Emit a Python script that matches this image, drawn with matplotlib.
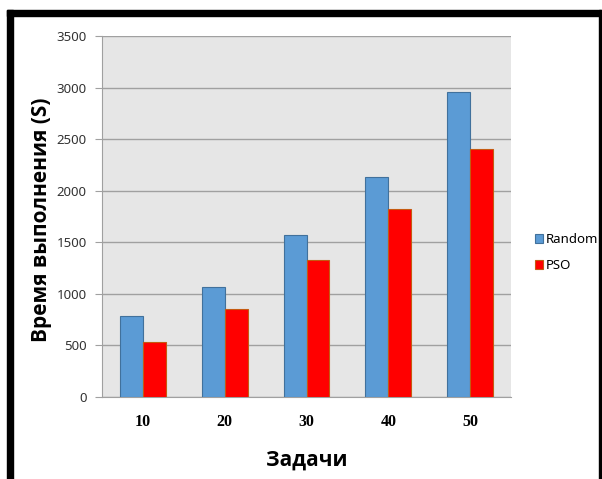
import numpy as np
import matplotlib.pyplot as plt
from matplotlib.patches import Rectangle

# данные: время выполнения для разного числа задач
tasks = ['10', '20', '30', '40', '50']
random_time = [790, 1070, 1575, 2135, 2955]
pso_time = [535, 855, 1325, 1820, 2400]

fig = plt.figure(figsize=(6.02, 4.79), dpi=100)
ax = fig.add_axes([102 / 602, 1 - 397 / 479, 409 / 602, 361 / 479])

x = np.arange(len(tasks))
w = 0.28
ax.bar(x - w / 2, random_time, w, color='#5b9bd5', edgecolor='#41719c',
       linewidth=0.8, label='Random', zorder=3)
ax.bar(x + w / 2, pso_time, w, color='#ff0000', edgecolor='#c55a11',
       linewidth=0.8, label='PSO', zorder=3)

ax.set_facecolor('#e6e6e6')
ax.set_xlim(-0.5, len(tasks) - 0.5)
ax.set_ylim(0, 3500)
ax.set_yticks(np.arange(0, 3501, 500))
ax.yaxis.grid(True, color='#a0a0a0', linewidth=1.0, zorder=0)
ax.set_axisbelow(True)

for s in ['top', 'right']:
    ax.spines[s].set_visible(False)
ax.spines['left'].set_color('#a0a0a0')
ax.spines['bottom'].set_color('#a0a0a0')

ax.tick_params(axis='y', length=5, color='#a0a0a0', labelsize=9.5,
               labelcolor='#333333', pad=6)
for lbl in ax.get_yticklabels():
    lbl.set_fontfamily('Noto Sans')
ax.tick_params(axis='x', length=0, pad=12)
ax.set_xticks(x)
ax.set_xticklabels(tasks, fontfamily='Liberation Serif', fontweight='bold',
                   fontsize=11.5)

ax.set_ylabel('Время выполнения (S)', fontsize=15, fontweight='bold',
              fontfamily='Open Sans')
ax.yaxis.set_label_coords(-0.122, 0.49)
ax.set_xlabel('Задачи', fontsize=15, fontweight='bold',
              fontfamily='Open Sans', labelpad=14)

leg = ax.legend(loc='center left', bbox_to_anchor=(1.03, 0.40), frameon=False,
                handlelength=0.6, handleheight=0.6,
                handletextpad=0.2, labelspacing=1.0,
                prop={'family': 'Noto Sans', 'size': 9.5})

# чёрная рамка
fig.add_artist(Rectangle((7 / 602, 0), 6 / 602, 1 - 10 / 479,
                         transform=fig.transFigure, color='black'))
fig.add_artist(Rectangle((7 / 602, 1 - 16 / 479), 595 / 602, 6 / 479,
                         transform=fig.transFigure, color='black'))
fig.add_artist(Rectangle((599 / 602, 0), 2 / 602, 1 - 10 / 479,
                         transform=fig.transFigure, color='black'))

fig.savefig('out.png', dpi=100)
